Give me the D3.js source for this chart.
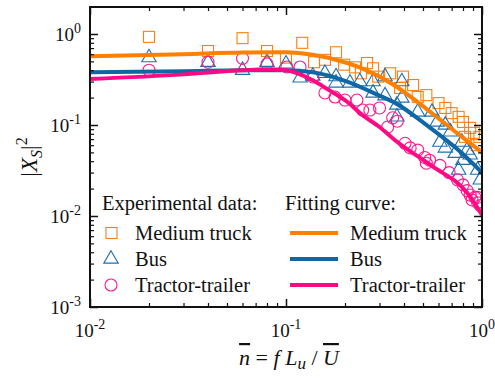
<!DOCTYPE html>
<meta charset="utf-8">
<html>
<style>
body { margin: 0; background: #fff; }
text { font-family: "Liberation Serif", "Times New Roman", serif; fill: #111; }
.frame { fill: none; stroke: #111; stroke-width: 2px; }
.tick line { stroke: #111; }
</style>
<svg width="495" height="379"></svg>
<script src="https://d3js.org/d3.v7.min.js"></script>
<script>
// experimental points: [n, |Xs|^2]
var truckPts = [[0.02,0.93],[0.04,0.65],[0.06,0.90],[0.08,0.65],[0.1,0.55],[0.121,0.80],[0.139,0.49],[0.158,0.52],
  [0.18,0.63],[0.198,0.46],[0.225,0.43],[0.241,0.37],[0.259,0.48],[0.278,0.42],[0.295,0.34],[0.34,0.37],[0.382,0.255],
  [0.395,0.34],[0.445,0.275],[0.47,0.203],[0.52,0.213],[0.60,0.174],[0.65,0.154],[0.70,0.135],[0.76,0.123],[0.80,0.108],
  [0.82,0.074],[0.87,0.093],[0.91,0.082],[0.94,0.060],[0.97,0.074]];
var busPts = [[0.02,0.55],[0.04,0.49],[0.06,0.40],[0.08,0.49],[0.1,0.47],[0.118,0.33],[0.137,0.345],[0.158,0.37],
  [0.18,0.34],[0.18,0.29],[0.212,0.29],[0.238,0.30],[0.278,0.30],[0.278,0.225],[0.32,0.34],[0.32,0.21],[0.368,0.166],
  [0.368,0.123],[0.39,0.30],[0.39,0.198],[0.47,0.139],[0.556,0.139],[0.59,0.108],[0.61,0.065],[0.65,0.10],[0.65,0.056],
  [0.69,0.084],[0.73,0.049],[0.76,0.032],[0.79,0.065],[0.80,0.041],[0.84,0.053],[0.87,0.047],[0.95,0.032],[0.98,0.025]];
var trailerPts = [[0.02,0.40],[0.04,0.49],[0.06,0.54],[0.08,0.47],[0.101,0.434],[0.118,0.434],[0.137,0.337],[0.158,0.225],
  [0.178,0.203],[0.20,0.188],[0.23,0.188],[0.246,0.146],[0.268,0.146],[0.30,0.154],[0.33,0.095],[0.35,0.12],[0.37,0.11],
  [0.405,0.063],[0.43,0.056],[0.47,0.053],[0.51,0.044],[0.52,0.038],[0.54,0.041],[0.61,0.036],[0.68,0.030],[0.75,0.025],
  [0.80,0.022],[0.84,0.019],[0.87,0.017],[0.89,0.015],[0.92,0.016],[0.95,0.016],[0.95,0.014],[0.98,0.013]];

// fitted curves
var truckFit = [[0.01,0.57],[0.03,0.60],[0.06,0.625],[0.1,0.63],[0.137,0.59],[0.205,0.48],[0.244,0.42],[0.30,0.34],
  [0.36,0.27],[0.53,0.146],[0.79,0.074],[1,0.05]];
var busFit = [[0.01,0.38],[0.03,0.39],[0.06,0.40],[0.1,0.40],[0.137,0.38],[0.205,0.30],[0.30,0.21],[0.36,0.175],
  [0.53,0.097],[0.79,0.049],[1,0.03]];
var trailerFit = [[0.01,0.32],[0.03,0.36],[0.06,0.40],[0.08,0.41],[0.1,0.40],[0.137,0.31],[0.164,0.245],[0.205,0.18],
  [0.244,0.13],[0.30,0.095],[0.36,0.068],[0.56,0.035],[0.84,0.018],[1,0.0103]];

var colors = {truck: "#ff7f0e", bus: "#1f6fae", trailer: "#ff1a8c"};
var lineColors = {truck: "#ff8000", bus: "#0f67a8", trailer: "#ff0a82"};

var svg = d3.select("svg");
var mLeft = 90, mRight = 482, mTop = 7, mBottom = 307;

var x = d3.scaleLog().domain([0.01, 1]).range([mLeft, mRight]);
var y = d3.scaleLog().domain([0.001, 1.98]).range([mBottom, mTop]);

var plot = svg.append("g");
svg.append("clipPath").attr("id", "clip").append("rect")
  .attr("x", mLeft).attr("y", mTop).attr("width", mRight - mLeft).attr("height", mBottom - mTop);
var marks = plot.append("g").attr("clip-path", "url(#clip)");

// markers
var sq = 11;
marks.selectAll("rect.sq").data(truckPts).enter().append("rect")
  .attr("x", function(d) { return x(d[0]) - sq / 2; })
  .attr("y", function(d) { return y(d[1]) - sq / 2; })
  .attr("width", sq).attr("height", sq)
  .attr("fill", "none").attr("stroke", colors.truck).attr("stroke-width", 1.1);

var tri = d3.symbol().type(d3.symbolTriangle).size(90);
marks.selectAll("path.tri").data(busPts).enter().append("path")
  .attr("d", tri)
  .attr("transform", function(d) { return "translate(" + x(d[0]) + "," + y(d[1]) + ")"; })
  .attr("fill", "none").attr("stroke", colors.bus).attr("stroke-width", 1.1);

marks.selectAll("circle").data(trailerPts).enter().append("circle")
  .attr("cx", function(d) { return x(d[0]); })
  .attr("cy", function(d) { return y(d[1]); })
  .attr("r", 6)
  .attr("fill", "none").attr("stroke", colors.trailer).attr("stroke-width", 1.1);

// fitting curves
var line = d3.line()
  .x(function(d) { return x(d[0]); })
  .y(function(d) { return y(d[1]); })
  .curve(d3.curveMonotoneX);
[["truck", truckFit], ["bus", busFit], ["trailer", trailerFit]].forEach(function(s) {
  marks.append("path").datum(s[1]).attr("d", line)
    .attr("fill", "none").attr("stroke", lineColors[s[0]]).attr("stroke-width", 4);
});

// ticks
function minors(lo, hi) {
  var out = [];
  for (var e = -3; e <= 0; e++) for (var k = 2; k <= 9; k++) {
    var v = k * Math.pow(10, e);
    if (v > lo && v < hi) out.push(v);
  }
  return out;
}
var xMaj = [0.01, 0.1, 1], yMaj = [0.001, 0.01, 0.1, 1];
var xMin = minors(0.01, 1), yMin = minors(0.001, 1.98);

function addAxis(axisFn, scale, maj, mn, transform) {
  plot.append("g").attr("transform", transform)
    .call(axisFn(scale).tickValues(maj).tickSizeInner(-8).tickSizeOuter(0).tickFormat(""))
    .call(function(g) { g.select(".domain").remove(); g.selectAll("line").attr("stroke-width", 1.5); });
  plot.append("g").attr("transform", transform)
    .call(axisFn(scale).tickValues(mn).tickSizeInner(-4).tickSizeOuter(0).tickFormat(""))
    .call(function(g) { g.select(".domain").remove(); g.selectAll("line").attr("stroke-width", 1.2); });
}
addAxis(d3.axisBottom, x, xMaj, xMin, "translate(0," + mBottom + ")");
addAxis(d3.axisTop, x, xMaj, xMin, "translate(0," + mTop + ")");
addAxis(d3.axisLeft, y, yMaj, yMin, "translate(" + mLeft + ",0)");
addAxis(d3.axisRight, y, yMaj, yMin, "translate(" + mRight + ",0)");

plot.append("rect").attr("class", "frame")
  .attr("x", mLeft).attr("y", mTop).attr("width", mRight - mLeft).attr("height", mBottom - mTop);

// tick labels
function pow10(sel, e) {
  sel.append("tspan").text("10");
  sel.append("tspan").attr("dy", -8).attr("font-size", 14).text(e);
}
function expOf(v) { var e = Math.round(Math.log10(v)); return e === 0 ? "0" : String(e); }
xMaj.forEach(function(v) {
  var t = svg.append("text").attr("x", x(v)).attr("y", 337).attr("font-size", 19).attr("text-anchor", "middle");
  pow10(t, expOf(v));
});
yMaj.forEach(function(v) {
  var t = svg.append("text").attr("x", 81).attr("y", y(v) + 7).attr("font-size", 19).attr("text-anchor", "end");
  pow10(t, expOf(v));
});

// axis titles
var yl = svg.append("text").attr("transform", "translate(37,157) rotate(-90)")
  .attr("text-anchor", "middle").attr("font-size", 23);
yl.append("tspan").text("|");
yl.append("tspan").attr("font-style", "italic").text("X");
yl.append("tspan").attr("font-style", "italic").attr("font-size", 16).attr("dy", 5).text("S");
yl.append("tspan").attr("dy", -5).text("|");
yl.append("tspan").attr("font-size", 16).attr("dy", -10).text("2");

var xl = svg.append("text").attr("x", 289).attr("y", 365).attr("text-anchor", "middle").attr("font-size", 22);
xl.append("tspan").attr("font-style", "italic").attr("text-decoration", "overline").text("n");
xl.append("tspan").text(" = ");
xl.append("tspan").attr("font-style", "italic").text("f L");
xl.append("tspan").attr("font-style", "italic").attr("font-size", 17).attr("dy", 4).text("u");
xl.append("tspan").attr("dy", -4).text(" / ");
xl.append("tspan").attr("font-style", "italic").attr("text-decoration", "overline").text("U");

// legend
var names = ["Medium truck", "Bus", "Tractor-trailer"];
var keys = ["truck", "bus", "trailer"];
var rowsY = [240, 266, 292];
svg.append("text").attr("x", 102).attr("y", 210).attr("font-size", 20.5).text("Experimental data:");
svg.append("text").attr("x", 285).attr("y", 210).attr("font-size", 20.5).text("Fitting curve:");
keys.forEach(function(k, i) {
  var cy = rowsY[i] - 7;
  if (k === "truck") {
    svg.append("rect").attr("x", 106).attr("y", cy - 5.5).attr("width", 11).attr("height", 11)
      .attr("fill", "none").attr("stroke", colors.truck).attr("stroke-width", 1.1);
  } else if (k === "bus") {
    svg.append("path").attr("d", tri).attr("transform", "translate(111," + cy + ")")
      .attr("fill", "none").attr("stroke", colors.bus).attr("stroke-width", 1.1);
  } else {
    svg.append("circle").attr("cx", 111).attr("cy", cy).attr("r", 6)
      .attr("fill", "none").attr("stroke", colors.trailer).attr("stroke-width", 1.1);
  }
  svg.append("text").attr("x", 135).attr("y", rowsY[i]).attr("font-size", 20.5).text(names[i]);
  svg.append("line").attr("x1", 290).attr("x2", 338).attr("y1", cy).attr("y2", cy)
    .attr("stroke", lineColors[k]).attr("stroke-width", 4);
  svg.append("text").attr("x", 350).attr("y", rowsY[i]).attr("font-size", 20.5).text(names[i]);
});
</script>
</html>
